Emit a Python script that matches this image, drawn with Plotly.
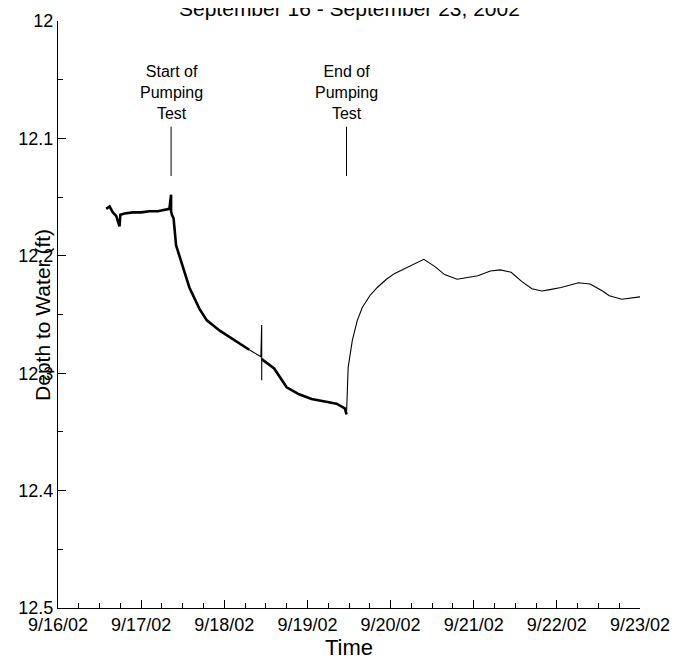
import plotly.graph_objects as go
import pandas as pd

base = pd.Timestamp("2002-09-16")
days = [0.58, 0.62, 0.66, 0.70, 0.74, 0.75, 0.80, 0.90, 1.00, 1.10, 1.20, 1.30, 1.34, 1.36, 1.36, 1.37, 1.39, 1.42, 1.50,
        1.58, 1.70, 1.79, 1.95, 2.13, 2.30, 2.44, 2.45, 2.45, 2.45, 2.60, 2.75, 2.90, 3.05, 3.20, 3.35, 3.45, 3.47,
        3.49, 3.54, 3.60, 3.66, 3.75, 3.84, 3.95, 4.05, 4.20, 4.30, 4.40, 4.53, 4.65, 4.80, 5.05, 5.20, 5.32,
        5.45, 5.58, 5.70, 5.82, 5.90, 6.05, 6.26, 6.40, 6.55, 6.63, 6.78, 6.90, 7.00]
depth = [12.160, 12.158, 12.163, 12.166, 12.175, 12.165, 12.164, 12.163, 12.163, 12.162, 12.162, 12.161, 12.160, 12.148, 12.162, 12.165, 12.168, 12.191, 12.210,
         12.227, 12.245, 12.255, 12.264, 12.272, 12.280, 12.286, 12.259, 12.306, 12.288, 12.296, 12.312, 12.318, 12.322, 12.324, 12.326, 12.330, 12.335,
         12.295, 12.272, 12.255, 12.244, 12.234, 12.227, 12.220, 12.215, 12.210, 12.207, 12.203, 12.209, 12.216, 12.220, 12.217, 12.213, 12.212,
         12.214, 12.222, 12.228, 12.230, 12.229, 12.227, 12.223, 12.224, 12.230, 12.234, 12.237, 12.236, 12.235]
x_ticks = [base + pd.Timedelta(days=i) for i in range(8)]
tick_labels = ["9/16/02", "9/17/02", "9/18/02", "9/19/02", "9/20/02", "9/21/02", "9/22/02", "9/23/02"]
events = [1.36, 3.47]
event_labels = ["Start of<br>Pumping<br>Test", "End of<br>Pumping<br>Test"]

split = 37  # index where recovery (thin line) begins
t = [base + pd.Timedelta(days=d) for d in days]
font = "Liberation Sans, Arial, sans-serif"
fig = go.Figure()
fig.add_trace(go.Scatter(x=t[:25], y=depth[:25], mode="lines", line=dict(color="black", width=2.6),
                         showlegend=False))
fig.add_trace(go.Scatter(x=t[24:29], y=depth[24:29], mode="lines", line=dict(color="black", width=1.1),
                         showlegend=False))
fig.add_trace(go.Scatter(x=t[28:split], y=depth[28:split], mode="lines", line=dict(color="black", width=2.6),
                         showlegend=False))
fig.add_trace(go.Scatter(x=t[split - 1:], y=depth[split - 1:], mode="lines", line=dict(color="black", width=1.1),
                         showlegend=False))
for d, lab in zip(events, event_labels):
    xe = base + pd.Timedelta(days=d)
    fig.add_trace(go.Scatter(x=[xe, xe], y=[12.09, 12.132], mode="lines", line=dict(color="black", width=1),
                             showlegend=False))
    fig.add_annotation(x=xe, y=12.088, text=lab, showarrow=False, yanchor="bottom",
                       font=dict(family=font, size=16, color="black"))
fig.add_annotation(xref="paper", yref="paper", x=0.5, y=1.0, yshift=13, yanchor="middle",
                   text="September 16 - September 23, 2002", showarrow=False,
                   font=dict(family=font, size=21, color="black"))
fig.add_annotation(xref="paper", yref="paper", x=-0.05, y=0.5, textangle=-90,
                   text="Depth to Water (ft)", showarrow=False,
                   font=dict(family=font, size=21, color="black"))
fig.update_layout(
    width=678, height=662, margin=dict(l=50, r=46, t=13, b=62),
    paper_bgcolor="white", plot_bgcolor="white",
    font=dict(family=font, size=18, color="black"),
    xaxis=dict(range=[x_ticks[0], x_ticks[-1]], tickvals=x_ticks, ticktext=tick_labels, automargin=False,
               ticks="inside", ticklen=8, tickcolor="black", showgrid=False, zeroline=False,
               showline=True, linecolor="black", linewidth=1,
               minor=dict(dtick=6 * 3600 * 1000, ticks="inside", ticklen=5, tickcolor="black"),
               title=dict(text="Time", font=dict(size=22), standoff=0)),
    yaxis=dict(range=[12.5, 12.0], tickvals=[12.0, 12.1, 12.2, 12.3, 12.4, 12.5], automargin=False,
               ticktext=["12", "12.1", "12.2", "12.3", "12.4", "12.5"],
               ticks="inside", ticklen=8, tickcolor="black", showgrid=False, zeroline=False,
               showline=True, linecolor="black", linewidth=1,
               minor=dict(tickvals=[12.05, 12.15, 12.25, 12.35, 12.45], ticks="inside", ticklen=5, tickcolor="black")),
)
fig.write_html("out.html")
